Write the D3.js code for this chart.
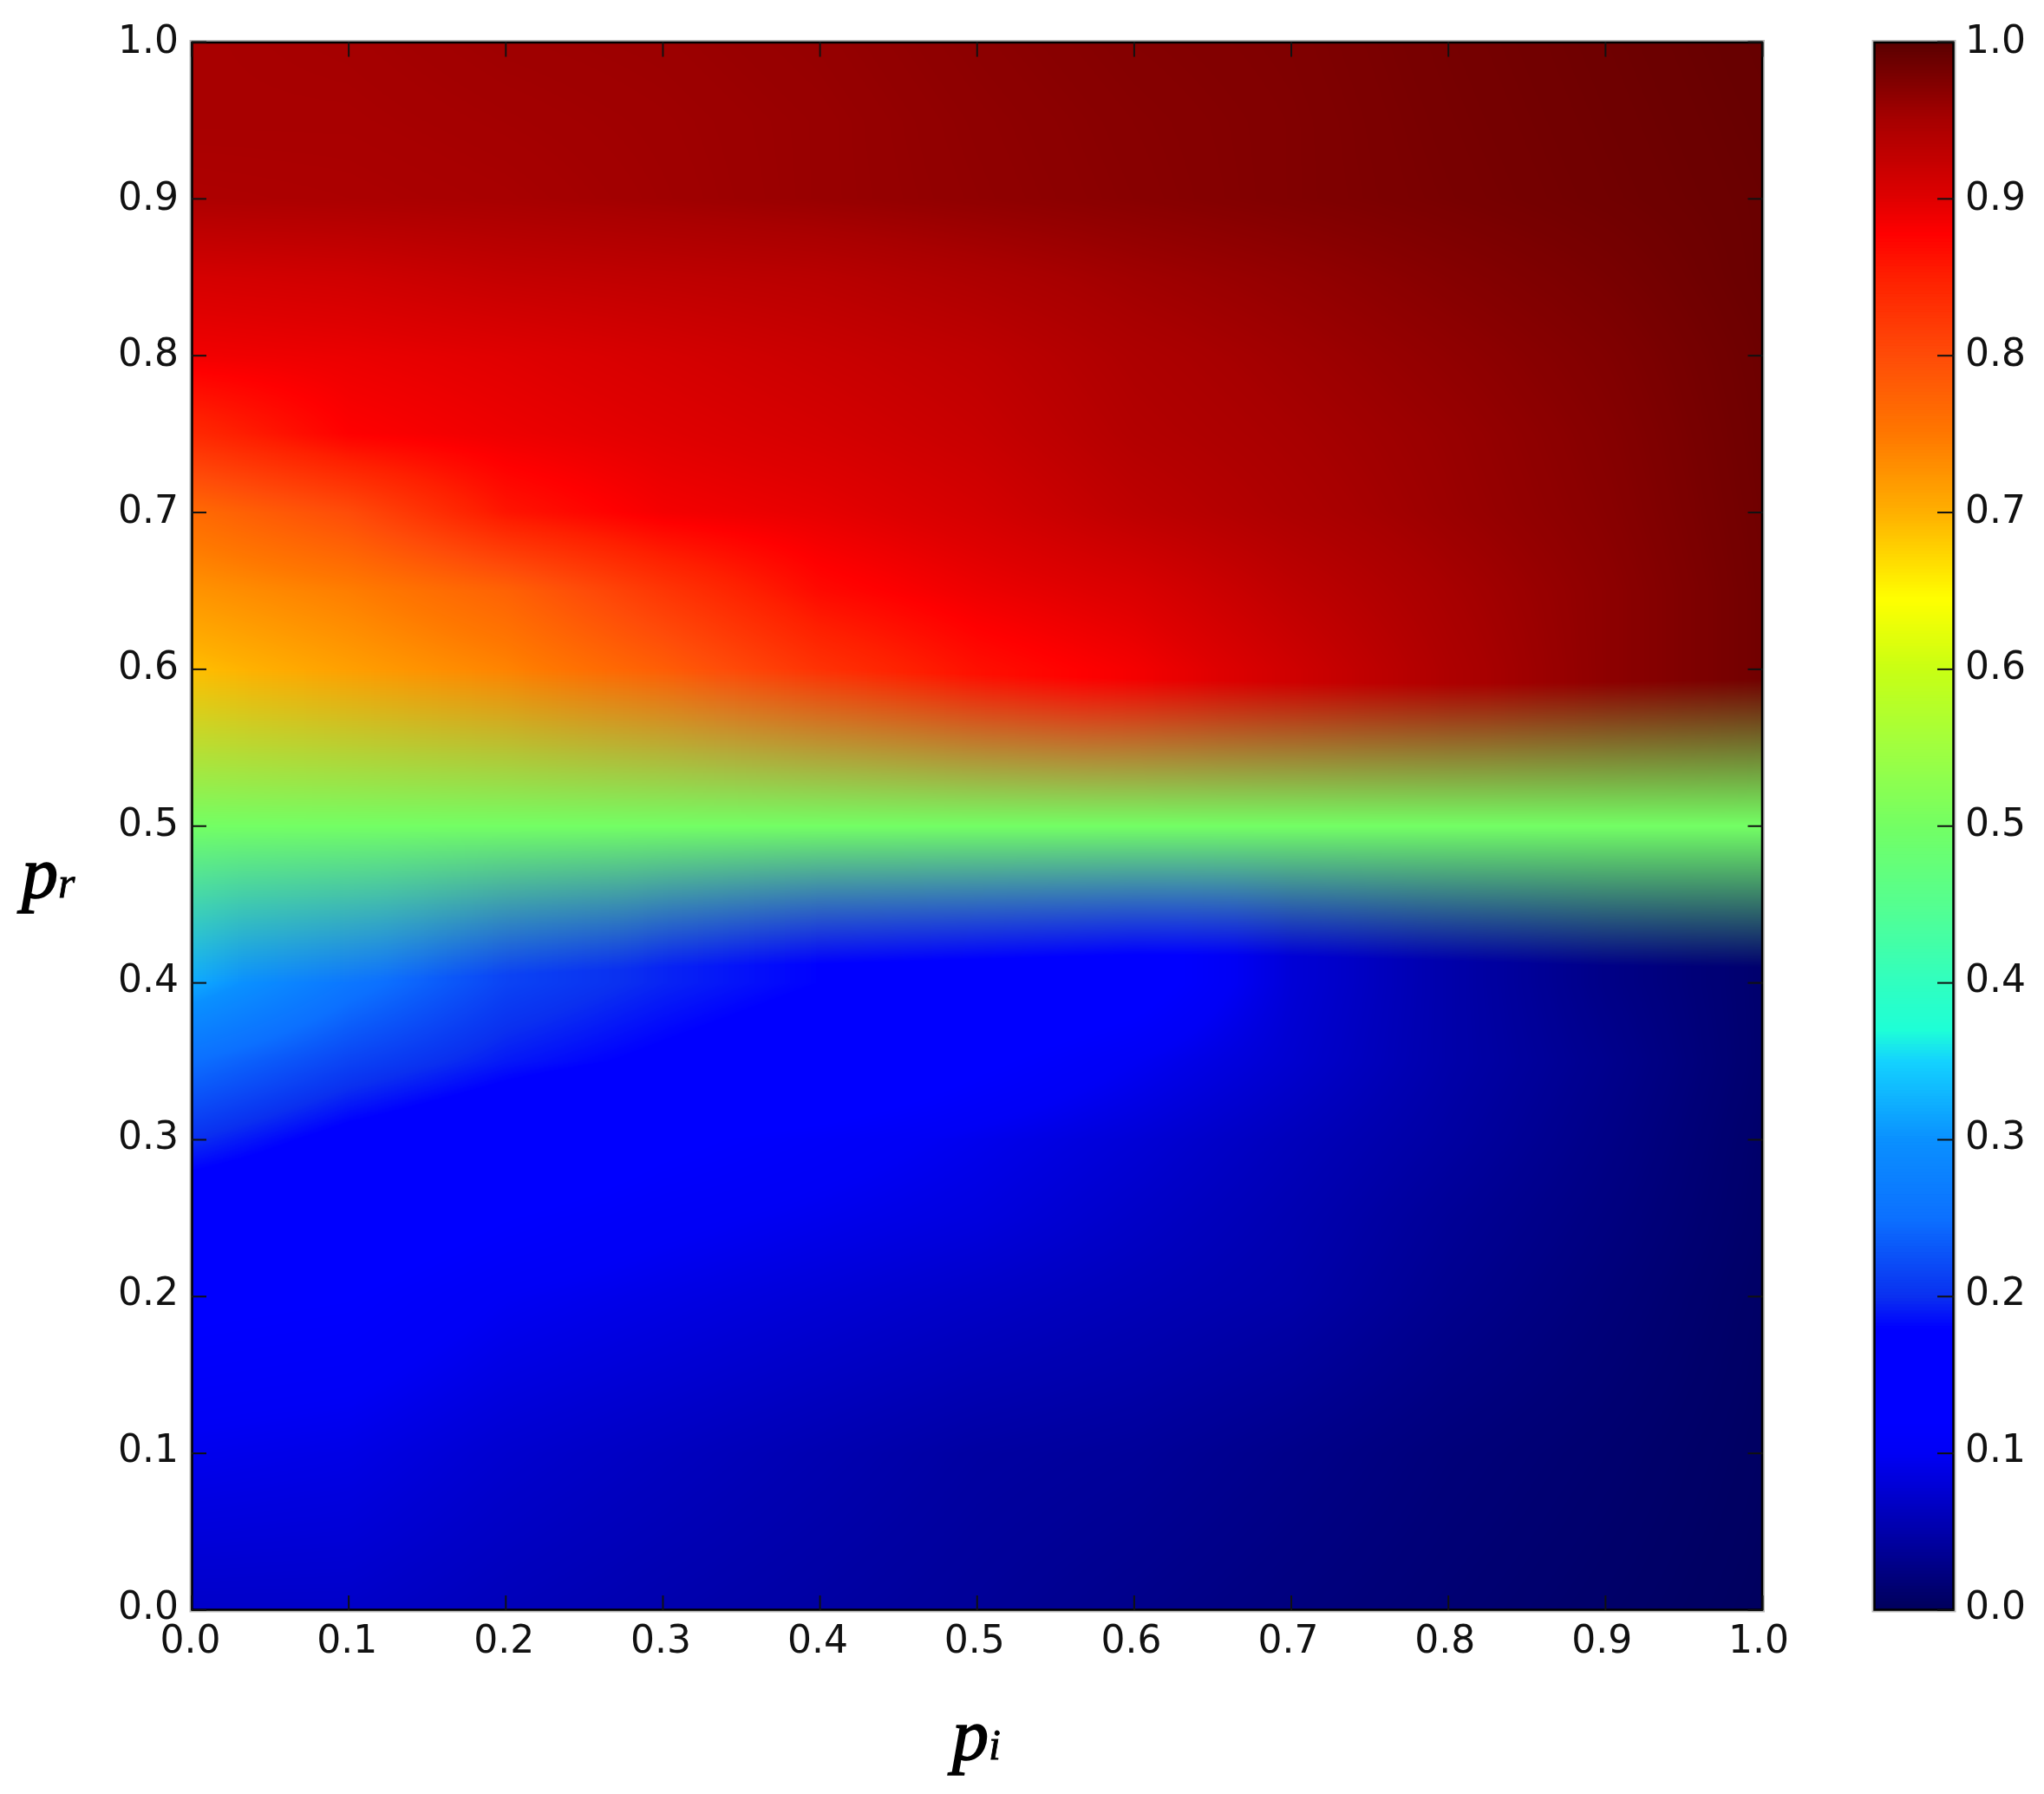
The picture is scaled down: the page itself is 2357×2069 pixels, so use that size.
<!DOCTYPE html>
<html>
<head>
<meta charset="utf-8">
<script src="https://cdn.jsdelivr.net/npm/d3@7/dist/d3.min.js"></script>
<style>
html,body{margin:0;padding:0;background:#fff;}
#wrap{position:relative;width:2357px;height:2069px;overflow:hidden;}
canvas,svg{position:absolute;left:0;top:0;}
text{font-family:"DejaVu Sans",sans-serif;fill:#111;}
</style>
</head>
<body>
<div id="wrap"></div>
<script>
// ---- data ----
const tickLabels = [0,0.1,0.2,0.3,0.4,0.5,0.6,0.7,0.8,0.9,1.0];
const piColumns  = [0,0.1,0.2,0.3,0.4,0.5,0.6,0.7,0.8,0.9,1.0];

// rows above the transition band (p_r, values at each p_i column)
const upperRows = [0.6,0.65,0.7,0.75,0.8,0.85,0.9,0.95,1.0];
const upperValues = [
 [.69,.715,.74,.78,.83,.865,.885,.915,.945,.967,.985],
 [.725,.745,.775,.825,.87,.89,.905,.93,.95,.967,.985],
 [.765,.80,.86,.885,.895,.91,.93,.945,.958,.97,.986],
 [.84,.878,.89,.90,.91,.922,.94,.95,.96,.972,.987],
 [.887,.892,.90,.91,.92,.93,.945,.955,.965,.975,.988],
 [.91,.915,.925,.93,.935,.945,.955,.963,.972,.98,.99],
 [.945,.947,.95,.955,.96,.965,.97,.975,.98,.985,.99],
 [.95,.95,.953,.956,.96,.966,.971,.975,.981,.986,.991],
 [.95,.952,.956,.958,.962,.968,.973,.976,.982,.987,.992]
];
// rows below the transition band
const lowerRows = [0,0.1,0.2,0.25,0.3,0.35,0.4];
const lowerValues = [
 [.07,.07,.06,.052,.045,.038,.03,.022,.015,.009,.003],
 [.095,.09,.075,.065,.055,.045,.04,.03,.02,.013,.005],
 [.125,.12,.10,.09,.08,.07,.06,.05,.033,.02,.007],
 [.15,.14,.12,.105,.095,.085,.07,.055,.038,.024,.009],
 [.20,.17,.15,.125,.11,.095,.08,.062,.045,.028,.01],
 [.25,.215,.19,.175,.16,.125,.10,.075,.05,.032,.012],
 [.32,.26,.215,.195,.18,.155,.135,.08,.05,.028,.012]
];
// edges of the band around p_r = 0.5, at each p_i column
const bandTop    = [.6,.6,.6,.6,.6,.597,.594,.592,.591,.592,.594];
const bandBottom = [.4,.4,.405,.41,.412,.415,.418,.417,.414,.411,.41];
const bandMiddle = 0.5;

// colour bar stops
const cmapStops  = [0,.05,.1,.12,.18,.2,.25,.3,.35,.37,.4,.45,.5,.55,.6,.645,.7,.75,.8,.85,.878,.9,.95,1];
const cmapColors = ["#00005a","#0000aa","#0000f5","#0000ff","#0000ff","#0a30f0","#0c70ff","#0a90ff","#14d2ff","#1effd7","#30ffc0","#55ff90","#73ff64","#a0ff40","#c8ff14","#ffff00","#ffb000","#ff7800","#ff4c08","#ff2000","#ff0000","#e00000","#a80000","#5a0000"];

// ---- layout ----
const L=221, R=2032.5, T=48.5, B=1857, CL=2161, CR=2253;
const x = d3.scaleLinear().domain([0,1]).range([L,R]);
const y = d3.scaleLinear().domain([0,1]).range([B,T]);
const cmap = d3.scaleLinear().domain(cmapStops).range(cmapColors).interpolate(d3.interpolateRgb).clamp(true);
const LUT = d3.range(2049).map(i=>{const c=d3.rgb(cmap(i/2048));return [c.r,c.g,c.b];});
const lut = v=>LUT[Math.max(0,Math.min(2048,Math.round(v*2048)))];

const wrap = d3.select("#wrap");
const canvas = wrap.append("canvas").attr("width",2357).attr("height",2069);
const ctx = canvas.node().getContext("2d");
ctx.fillStyle="#fff"; ctx.fillRect(0,0,2357,2069);

function bracket(arr,v){
  let i=d3.bisectRight(arr,v)-1;
  i=Math.max(0,Math.min(arr.length-2,i));
  return [i,Math.max(0,Math.min(1,(v-arr[i])/(arr[i+1]-arr[i])))];
}
function gridValue(rows,vals,pr,ci,ct){
  const [ri,rt]=bracket(rows,pr);
  const a=vals[ri][ci]*(1-ct)+vals[ri][ci+1]*ct;
  const b=vals[ri+1][ci]*(1-ct)+vals[ri+1][ci+1]*ct;
  return a*(1-rt)+b*rt;
}
// ---- heat map, through the scales ----
const x0=Math.round(L), x1=Math.round(R), y0=Math.round(T), y1=Math.round(B);
const img=ctx.createImageData(x1-x0,y1-y0);
const mid=lut(bandMiddle);
for(let py=y0;py<y1;py++){
  const pr=y.invert(py+.5);
  for(let px=x0;px<x1;px++){
    const pi=x.invert(px+.5);
    const [ci,ct]=bracket(piColumns,pi);
    const top=bandTop[ci]*(1-ct)+bandTop[ci+1]*ct;
    const bot=bandBottom[ci]*(1-ct)+bandBottom[ci+1]*ct;
    let c;
    if(pr>=top){
      c=lut(gridValue(upperRows,upperValues,pr,ci,ct));
    }else if(pr<=bot){
      c=lut(gridValue(lowerRows,lowerValues,pr,ci,ct));
    }else if(pr>=bandMiddle){
      const e=lut(upperValues[0][ci]*(1-ct)+upperValues[0][ci+1]*ct);
      const t=(pr-bandMiddle)/(top-bandMiddle);
      c=[mid[0]+(e[0]-mid[0])*t,mid[1]+(e[1]-mid[1])*t,mid[2]+(e[2]-mid[2])*t];
    }else{
      const last=lowerValues.length-1;
      const e=lut(lowerValues[last][ci]*(1-ct)+lowerValues[last][ci+1]*ct);
      const t=(bandMiddle-pr)/(bandMiddle-bot);
      c=[mid[0]+(e[0]-mid[0])*t,mid[1]+(e[1]-mid[1])*t,mid[2]+(e[2]-mid[2])*t];
    }
    const k=((py-y0)*(x1-x0)+(px-x0))*4;
    img.data[k]=c[0];img.data[k+1]=c[1];img.data[k+2]=c[2];img.data[k+3]=255;
  }
}
ctx.putImageData(img,x0,y0);

// ---- svg overlay ----
const svg = wrap.append("svg").attr("width",2357).attr("height",2069);

// colour bar
const levels=d3.range(0,1,1/512);
svg.append("g").selectAll("rect").data(levels).join("rect")
  .attr("x",CL).attr("width",CR-CL)
  .attr("y",d=>y(d+1/512)-0.5).attr("height",(B-T)/512+1)
  .attr("fill",d=>cmap(d+1/1024));

// frames
function frame(l,r){
  svg.append("rect").attr("x",l-1).attr("y",T-1).attr("width",r-l+2).attr("height",B-T+2)
    .attr("fill","none").attr("stroke","#bbb").attr("stroke-width",3);
  svg.append("rect").attr("x",l+0.5).attr("y",T+0.5).attr("width",r-l-1).attr("height",B-T-1)
    .attr("fill","none").attr("stroke","#000").attr("stroke-width",2.5);
}
frame(L,R); frame(CL,CR);

const fmt=d3.format(".1f"), TS=44, TL=17;
function styleAxis(g,shift){
  g.select(".domain").remove();
  g.selectAll(".tick line").attr("stroke","#111").attr("stroke-width",2);
  g.selectAll(".tick text").attr("font-size",TS).attr("fill","#111")
    .attr("dy",null).attr("dominant-baseline","central")
    .attr("transform",shift);
}
const mk=(axis,scale)=>axis(scale).tickValues(tickLabels).tickSizeOuter(0).offset(0);
const yShift=d=>`translate(0,${-3-3*(1-d)})`;
const xShift=d=>`translate(${-1.5-3*d},0)`;
svg.append("g").attr("transform",`translate(${L},0)`)
  .call(mk(d3.axisLeft,y).tickSizeInner(-TL).tickPadding(15).tickFormat(fmt)).call(g=>styleAxis(g,yShift));
svg.append("g").attr("transform",`translate(0,${B})`)
  .call(mk(d3.axisBottom,x).tickSizeInner(-TL).tickPadding(33).tickFormat(fmt)).call(g=>styleAxis(g,xShift));
svg.append("g").attr("transform",`translate(${R},0)`)
  .call(mk(d3.axisRight,y).tickSizeInner(-TL).tickFormat("")).call(g=>styleAxis(g,null));
svg.append("g").attr("transform",`translate(0,${T})`)
  .call(mk(d3.axisTop,x).tickSizeInner(-TL).tickFormat("")).call(g=>styleAxis(g,null));
svg.append("g").attr("transform",`translate(${CR},0)`)
  .call(mk(d3.axisRight,y).tickSizeInner(-TL-2).tickPadding(13).tickFormat(fmt)).call(g=>styleAxis(g,yShift));

// axis titles
function title(px,py,main,sub){
  const t=svg.append("text").attr("x",px).attr("y",py)
    .style("font-family","'Liberation Serif',serif").style("font-style","italic").style("fill","#000")
    .style("stroke","#000").style("paint-order","stroke");
  t.append("tspan").attr("font-size",84).style("stroke-width","1.6px").text(main);
  t.append("tspan").attr("font-size",50).style("stroke-width","0.8px").text(sub);
}
title(1098,2029,"p","i");
title(25,1035,"p","r");
</script>
</body>
</html>
